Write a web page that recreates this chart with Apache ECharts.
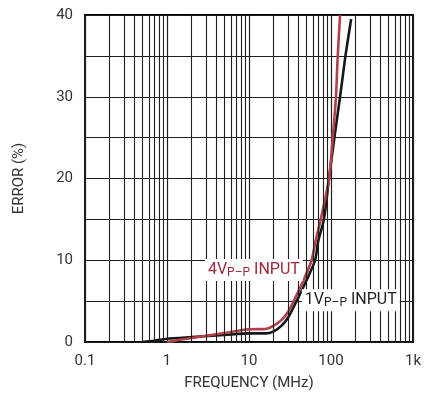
<!DOCTYPE html>
<html>
<head>
<meta charset="utf-8">
<script src="https://cdn.jsdelivr.net/npm/echarts@6/dist/echarts.min.js"></script>
<style>
  html, body { margin: 0; padding: 0; background: #fff; }
  #chart { width: 435px; height: 400px; }
</style>
</head>
<body>
<div id="chart"></div>
<script>
// [frequency MHz, error %]
var onePP = [
    [0.5, 0], [0.7, 0.15], [1, 0.4], [2, 0.6], [5, 0.85], [10, 1.05], [16, 1.05],
    [20, 1.3], [25, 2], [30, 3], [38, 5], [50, 7.5], [64, 10], [70, 12.4],
    [82, 15], [94.6, 20], [110, 25], [129, 30], [150, 35], [176, 39.5]
];
var fourPP = [
    [1, 0], [2, 0.5], [5, 1.1], [10, 1.55], [16, 1.6], [20, 2], [25, 2.7],
    [30, 3.7], [35, 5], [46, 7.5], [58, 10], [65, 12.4], [75, 15], [94.6, 20],
    [105, 25], [115, 30], [120, 34.4], [129, 40]
];
var minorFreqs = [];
[0.1, 1, 10, 100].forEach(function (d) {
    for (var k = 2; k <= 9; k++) minorFreqs.push(+(d * k).toPrecision(3));
});
var freqLabels = { '0.1': '0.1', '1': '1', '10': '10', '100': '100', '1000': '1k' };

var font = "Roboto, 'Liberation Sans', sans-serif";
var gridColor = '#1e1e1e';
var redColor = '#b1404b';

var chart = echarts.init(document.getElementById('chart'));
chart.setOption({
    animation: false,
    grid: {
        left: 85, right: 22, top: 15, bottom: 58,
        show: true, borderColor: '#000', borderWidth: 1.8, backgroundColor: '#fff'
    },
    xAxis: {
        type: 'log', logBase: 10, min: 0.1, max: 1000,
        name: 'FREQUENCY (MHz)', nameLocation: 'middle', nameGap: 34,
        nameTextStyle: { fontFamily: font, fontSize: 15, color: '#333' },
        axisLine: { show: false },
        axisTick: { show: false },
        axisLabel: {
            margin: 12, fontFamily: font, fontSize: 15, color: '#333',
            formatter: function (v) { return freqLabels[String(v)] || v; }
        },
        splitLine: { show: true, lineStyle: { color: gridColor, width: 1.2 } }
    },
    yAxis: {
        type: 'value', min: 0, max: 40, interval: 5,
        name: 'ERROR (%)', nameLocation: 'middle', nameGap: 58,
        nameTextStyle: { fontFamily: font, fontSize: 15, color: '#333' },
        axisLine: { show: false },
        axisTick: { show: false },
        axisLabel: {
            margin: 12, fontFamily: font, fontSize: 15, color: '#333',
            formatter: function (v) { return v % 10 === 0 ? v : ''; }
        },
        splitLine: { show: true, lineStyle: { color: gridColor, width: 1.2 } }
    },
    series: [
        {
            type: 'line', data: [], silent: true,
            markLine: {
                silent: true, symbol: 'none', animation: false,
                label: { show: false },
                lineStyle: { color: gridColor, width: 1.1, type: 'solid' },
                data: minorFreqs.map(function (f) { return { xAxis: f }; })
            }
        },
        {
            name: '1VP-P', type: 'line', data: onePP,
            smooth: 0.25, showSymbol: false,
            lineStyle: { color: '#161616', width: 2.6 }, z: 3,
            markPoint: {
                symbol: 'rect', symbolSize: 0, silent: true,
                data: [{ coord: [44, 5.1] }],
                label: {
                    show: true, position: 'right', distance: 0,
                    backgroundColor: '#fff', padding: [2, 3, 2, 3],
                    formatter: '{a|1V}{s|P\u2013P}{a| INPUT}',
                    rich: {
                        a: { fontFamily: font, fontSize: 16, color: '#222' },
                        s: { fontFamily: font, fontSize: 12, color: '#222', verticalAlign: 'bottom', padding: [6, 0, 0, 0] }
                    }
                }
            }
        },
        {
            name: '4VP-P', type: 'line', data: fourPP,
            smooth: 0.25, showSymbol: false,
            lineStyle: { color: redColor, width: 2.6 }, z: 4,
            markPoint: {
                symbol: 'rect', symbolSize: 0, silent: true,
                data: [{ coord: [2.9, 8.8] }],
                label: {
                    show: true, position: 'right', distance: 0,
                    backgroundColor: '#fff', padding: [2, 3, 2, 3],
                    formatter: '{a|4V}{s|P\u2013P}{a| INPUT}',
                    rich: {
                        a: { fontFamily: font, fontSize: 16, color: '#9a2a3c' },
                        s: { fontFamily: font, fontSize: 12, color: '#9a2a3c', verticalAlign: 'bottom', padding: [6, 0, 0, 0] }
                    }
                }
            }
        }
    ]
});
window.addEventListener('resize', function () { chart.resize(); });
</script>
</body>
</html>
